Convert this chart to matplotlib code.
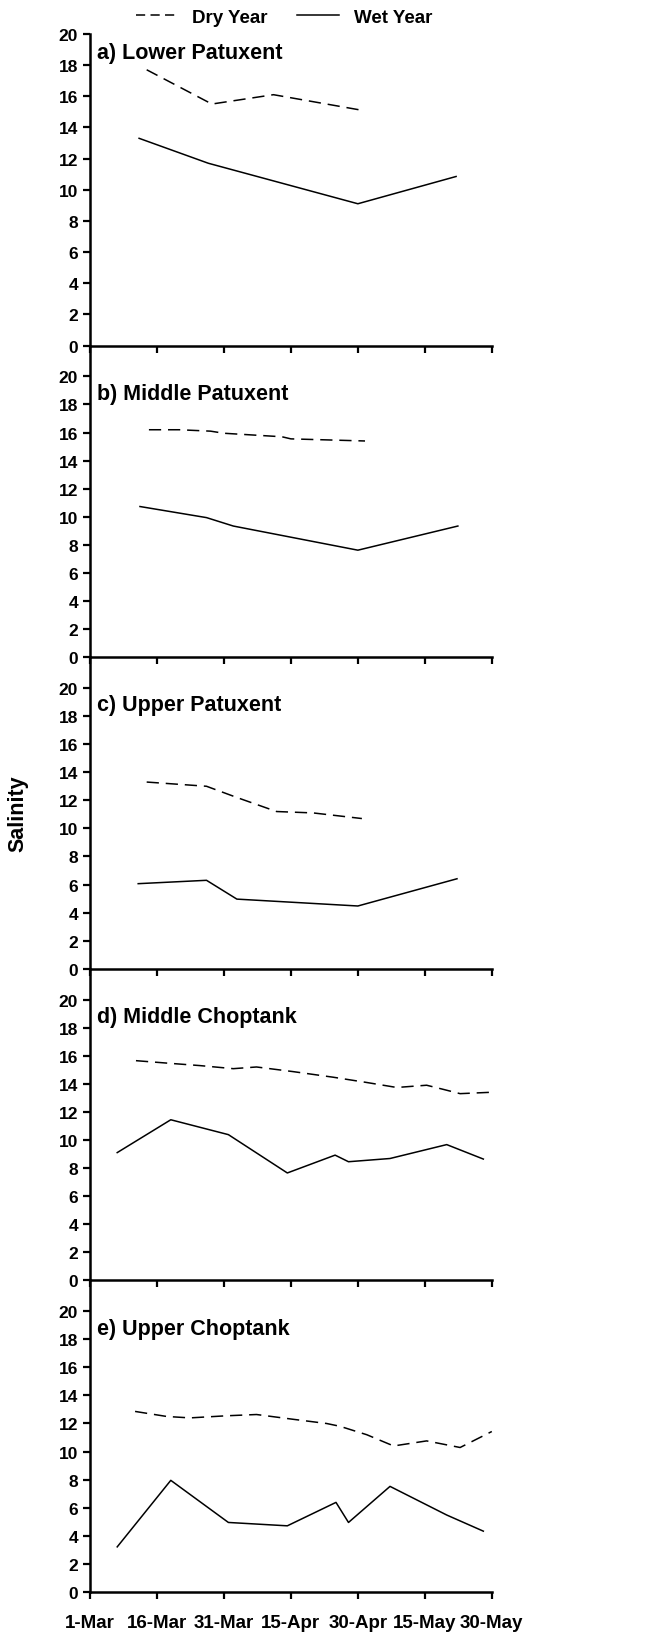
import numpy as np
import matplotlib
matplotlib.use("Agg")
import matplotlib.pyplot as plt
from matplotlib.lines import Line2D

plt.rcParams['font.family'] = ['Liberation Sans', 'DejaVu Sans']
plt.rcParams['font.weight'] = 'bold'

# days since 1-Mar
tick_days = [0, 15, 30, 45, 60, 75, 90]
tick_labels = ['1-Mar', '16-Mar', '31-Mar', '15-Apr', '30-Apr', '15-May', '30-May']
titles = ['a) Lower Patuxent', 'b) Middle Patuxent', 'c) Upper Patuxent',
          'd) Middle Choptank', 'e) Upper Choptank']

# a) Lower Patuxent
dry_a_x = [12.7, 27.3, 41.1, 60.9]
dry_a_y = [17.7, 15.5, 16.1, 15.1]
wet_a_x = [11.0, 26.5, 60.0, 82.0]
wet_a_y = [13.3, 11.7, 9.1, 10.85]

# b) Middle Patuxent
dry_b_x = [13.2, 20.0, 27.0, 30.0, 43.0, 45.0, 61.6]
dry_b_y = [16.2, 16.2, 16.1, 15.95, 15.7, 15.55, 15.4]
wet_b_x = [11.2, 26.1, 32.1, 60.0, 82.4]
wet_b_y = [10.73, 9.94, 9.34, 7.62, 9.34]

# c) Upper Patuxent
dry_c_x = [12.7, 26.1, 32.9, 41.8, 50.0, 60.9]
dry_c_y = [13.3, 13.0, 12.2, 11.2, 11.1, 10.7]
wet_c_x = [10.8, 26.1, 32.9, 60.0, 82.2]
wet_c_y = [6.06, 6.3, 4.96, 4.47, 6.41]

# d) Middle Choptank
dry_d_x = [10.3, 17.9, 24.6, 32.1, 37.3, 45.5, 54.5, 61.9, 68.7, 75.4, 79.2, 82.9, 90.0]
dry_d_y = [15.65, 15.46, 15.3, 15.08, 15.2, 14.87, 14.47, 14.1, 13.74, 13.9, 13.6, 13.3, 13.4]
wet_d_x = [6.1, 18.1, 31.0, 44.2, 54.9, 57.9, 67.2, 79.9, 88.1]
wet_d_y = [9.1, 11.44, 10.38, 7.65, 8.92, 8.45, 8.68, 9.67, 8.64]

# e) Upper Choptank
dry_e_x = [10.1, 17.2, 22.4, 30.6, 37.3, 45.5, 53.0, 56.0, 62.0, 68.0, 75.4, 82.9, 90.0]
dry_e_y = [12.86, 12.5, 12.4, 12.55, 12.64, 12.3, 12.0, 11.8, 11.2, 10.4, 10.76, 10.29, 11.43]
wet_e_x = [6.1, 18.1, 31.0, 44.2, 55.1, 57.9, 67.2, 79.9, 88.1]
wet_e_y = [3.21, 7.95, 4.95, 4.71, 6.38, 4.95, 7.52, 5.48, 4.33]

dry = [(dry_a_x, dry_a_y), (dry_b_x, dry_b_y), (dry_c_x, dry_c_y),
       (dry_d_x, dry_d_y), (dry_e_x, dry_e_y)]
wet = [(wet_a_x, wet_a_y), (wet_b_x, wet_b_y), (wet_c_x, wet_c_y),
       (wet_d_x, wet_d_y), (wet_e_x, wet_e_y)]

dash = (0, (8, 4.5))

fig, axs = plt.subplots(5, 1, figsize=(6.45, 16.4), dpi=100)
fig.subplots_adjust(left=0.1395, right=0.7625, top=0.9787, bottom=0.0287, hspace=0)

for i, ax in enumerate(axs):
    ax.patch.set_visible(False)
    ax.plot(dry[i][0], dry[i][1], color='black', lw=1.1, ls=dash, clip_on=False)
    ax.plot(wet[i][0], wet[i][1], color='black', lw=1.1, ls='-', clip_on=False)
    ax.set_xlim(0, 90)
    ax.set_ylim(0, 20 if i == 0 else 22.2)
    ax.set_yticks(np.arange(0, 21, 2))
    ax.set_xticks(tick_days)
    if i == 4:
        ax.set_xticklabels(tick_labels, fontsize=13.5, fontweight='bold')
    else:
        ax.set_xticklabels([])
    for lbl in ax.get_yticklabels():
        lbl.set_fontsize(12.5)
        lbl.set_fontweight('bold')
    ax.spines['top'].set_visible(False)
    ax.spines['right'].set_visible(False)
    ax.spines['left'].set_linewidth(1.8)
    ax.spines['bottom'].set_linewidth(1.8)
    ax.tick_params(axis='both', direction='out', length=5, width=1.6)
    ax.tick_params(axis='y', pad=3.5)
    ax.tick_params(axis='x', pad=11)
    ax.text(1.6, 18.8, titles[i], fontsize=15.5, fontweight='bold', va='center', ha='left')

fig.text(0.028, 0.504, 'Salinity', rotation=90, fontsize=15.5, fontweight='bold',
         va='center', ha='center')

handles = [Line2D([], [], color='black', lw=1.1, ls=(0, (6, 3.5))),
           Line2D([], [], color='black', lw=1.1, ls='-')]
fig.legend(handles, ['Dry Year', 'Wet Year'], loc='center', bbox_to_anchor=(0.44, 0.989),
           ncol=2, frameon=False, handlelength=2.2, columnspacing=1.6,
           handletextpad=0.8, prop={'weight': 'bold', 'size': 13.5})

fig.savefig('out.png', dpi=100)
